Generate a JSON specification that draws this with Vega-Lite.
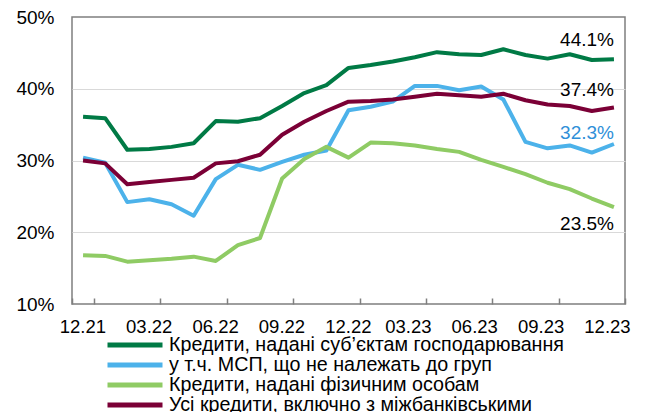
{
  "$schema": "https://vega.github.io/schema/vega-lite/v6.json",
  "width": 553,
  "height": 287,
  "autosize": {"type": "none"},
  "padding": {"left": 72, "top": 17, "right": 23, "bottom": 108},
  "config": {
    "font": "Liberation Sans",
    "view": {"stroke": "#7f7f7f", "strokeWidth": 1.5}
  },
  "data": {
    "values": [
      {"m": "12.21", "a": 0.361, "b": 0.304, "c": 0.168, "d": 0.300},
      {"m": "01.22", "a": 0.359, "b": 0.297, "c": 0.167, "d": 0.296},
      {"m": "02.22", "a": 0.315, "b": 0.242, "c": 0.159, "d": 0.267},
      {"m": "03.22", "a": 0.316, "b": 0.246, "c": 0.161, "d": 0.270},
      {"m": "04.22", "a": 0.319, "b": 0.239, "c": 0.163, "d": 0.273},
      {"m": "05.22", "a": 0.324, "b": 0.223, "c": 0.166, "d": 0.276},
      {"m": "06.22", "a": 0.355, "b": 0.274, "c": 0.160, "d": 0.296},
      {"m": "07.22", "a": 0.354, "b": 0.294, "c": 0.182, "d": 0.299},
      {"m": "08.22", "a": 0.359, "b": 0.287, "c": 0.192, "d": 0.308},
      {"m": "09.22", "a": 0.376, "b": 0.298, "c": 0.275, "d": 0.336},
      {"m": "10.22", "a": 0.394, "b": 0.308, "c": 0.302, "d": 0.354},
      {"m": "11.22", "a": 0.405, "b": 0.314, "c": 0.319, "d": 0.369},
      {"m": "12.22", "a": 0.429, "b": 0.370, "c": 0.304, "d": 0.382},
      {"m": "01.23", "a": 0.433, "b": 0.375, "c": 0.325, "d": 0.383},
      {"m": "02.23", "a": 0.438, "b": 0.382, "c": 0.324, "d": 0.385},
      {"m": "03.23", "a": 0.444, "b": 0.404, "c": 0.321, "d": 0.389},
      {"m": "04.23", "a": 0.451, "b": 0.404, "c": 0.316, "d": 0.393},
      {"m": "05.23", "a": 0.448, "b": 0.398, "c": 0.312, "d": 0.391},
      {"m": "06.23", "a": 0.447, "b": 0.403, "c": 0.301, "d": 0.389},
      {"m": "07.23", "a": 0.455, "b": 0.385, "c": 0.291, "d": 0.393},
      {"m": "08.23", "a": 0.447, "b": 0.326, "c": 0.281, "d": 0.384},
      {"m": "09.23", "a": 0.442, "b": 0.317, "c": 0.269, "d": 0.378},
      {"m": "10.23", "a": 0.448, "b": 0.321, "c": 0.260, "d": 0.376},
      {"m": "11.23", "a": 0.440, "b": 0.311, "c": 0.247, "d": 0.369},
      {"m": "12.23", "a": 0.441, "b": 0.323, "c": 0.235, "d": 0.374}
    ]
  },
  "transform": [{"fold": ["a", "b", "c", "d"], "as": ["s", "v"]}],
  "encoding": {
    "x": {
      "field": "m",
      "type": "nominal",
      "sort": null,
      "scale": {"type": "band", "paddingInner": 0, "paddingOuter": 0},
      "axis": {
        "values": ["12.21", "03.22", "06.22", "09.22", "12.22", "03.23", "06.23", "09.23", "12.23"],
        "title": null,
        "tickBand": "extent",
        "tickSize": -6,
        "tickColor": "#7f7f7f",
        "tickWidth": 1.5,
        "domain": false,
        "grid": false,
        "labelAngle": 0,
        "labelPadding": 19,
        "labelFontSize": 18.5,
        "labelColor": "black",
        "labelOffset": {"condition": {"test": "datum.value == '03.23' || datum.value == '06.23' || datum.value == '09.23' || datum.value == '12.23'", "value": -7}, "value": -0.7}
      }
    },
    "y": {
      "field": "v",
      "type": "quantitative",
      "scale": {"domain": [0.1, 0.5], "nice": false},
      "axis": {
        "values": [0.1, 0.2, 0.3, 0.4, 0.5],
        "format": ".0%",
        "title": null,
        "ticks": false,
        "domain": false,
        "labelPadding": 18,
        "labelFontSize": 19,
        "labelColor": "black",
        "gridColor": {"condition": {"test": "datum.value < 0.15 || datum.value > 0.45", "value": "transparent"}, "value": "#d9d9d9"},
        "gridWidth": 1
      }
    }
  },
  "layer": [
    {
      "mark": {"type": "line", "strokeWidth": 4, "strokeJoin": "round"},
      "encoding": {
        "color": {
          "field": "s",
          "type": "nominal",
          "scale": {"domain": ["a", "b", "c", "d"], "range": ["#007a45", "#4cb2ea", "#8fcb64", "#7b0036"]},
          "legend": {
            "orient": "none",
            "legendX": 33,
            "legendY": 318,
            "title": null,
            "direction": "vertical",
            "symbolType": "stroke",
            "symbolSize": 3025,
            "symbolStrokeWidth": 5,
            "clipHeight": 20,
            "rowPadding": 0,
            "padding": 0,
            "labelFontSize": 19.7,
            "labelOffset": 4,
            "labelLimit": 600,
            "labelColor": "black",
            "labelExpr": "datum.value == 'a' ? 'Кредити, надані суб’єктам господарювання' : datum.value == 'b' ? 'у т.ч. МСП, що не належать до груп' : datum.value == 'c' ? 'Кредити, надані фізичним особам' : 'Усі кредити, включно з міжбанківськими'"
          }
        }
      }
    },
    {
      "transform": [{"filter": "datum.s == 'a' && datum.m == '12.23'"}],
      "mark": {"type": "text", "align": "right", "baseline": "alphabetic", "dy": -13.5, "fontSize": 19, "color": "black"},
      "encoding": {"text": {"field": "v", "type": "quantitative", "format": ".1%"}}
    },
    {
      "transform": [{"filter": "datum.s == 'd' && datum.m == '12.23'"}],
      "mark": {"type": "text", "align": "right", "baseline": "alphabetic", "dy": -11.2, "fontSize": 19, "color": "black"},
      "encoding": {"text": {"field": "v", "type": "quantitative", "format": ".1%"}}
    },
    {
      "transform": [{"filter": "datum.s == 'b' && datum.m == '12.23'"}],
      "mark": {"type": "text", "align": "right", "baseline": "alphabetic", "dy": -4.8, "fontSize": 19, "color": "#2f8fd8"},
      "encoding": {"text": {"field": "v", "type": "quantitative", "format": ".1%"}}
    },
    {
      "transform": [{"filter": "datum.s == 'c' && datum.m == '12.23'"}],
      "mark": {"type": "text", "align": "right", "baseline": "alphabetic", "dy": 22.6, "fontSize": 19, "color": "black"},
      "encoding": {"text": {"field": "v", "type": "quantitative", "format": ".1%"}}
    }
  ]
}
